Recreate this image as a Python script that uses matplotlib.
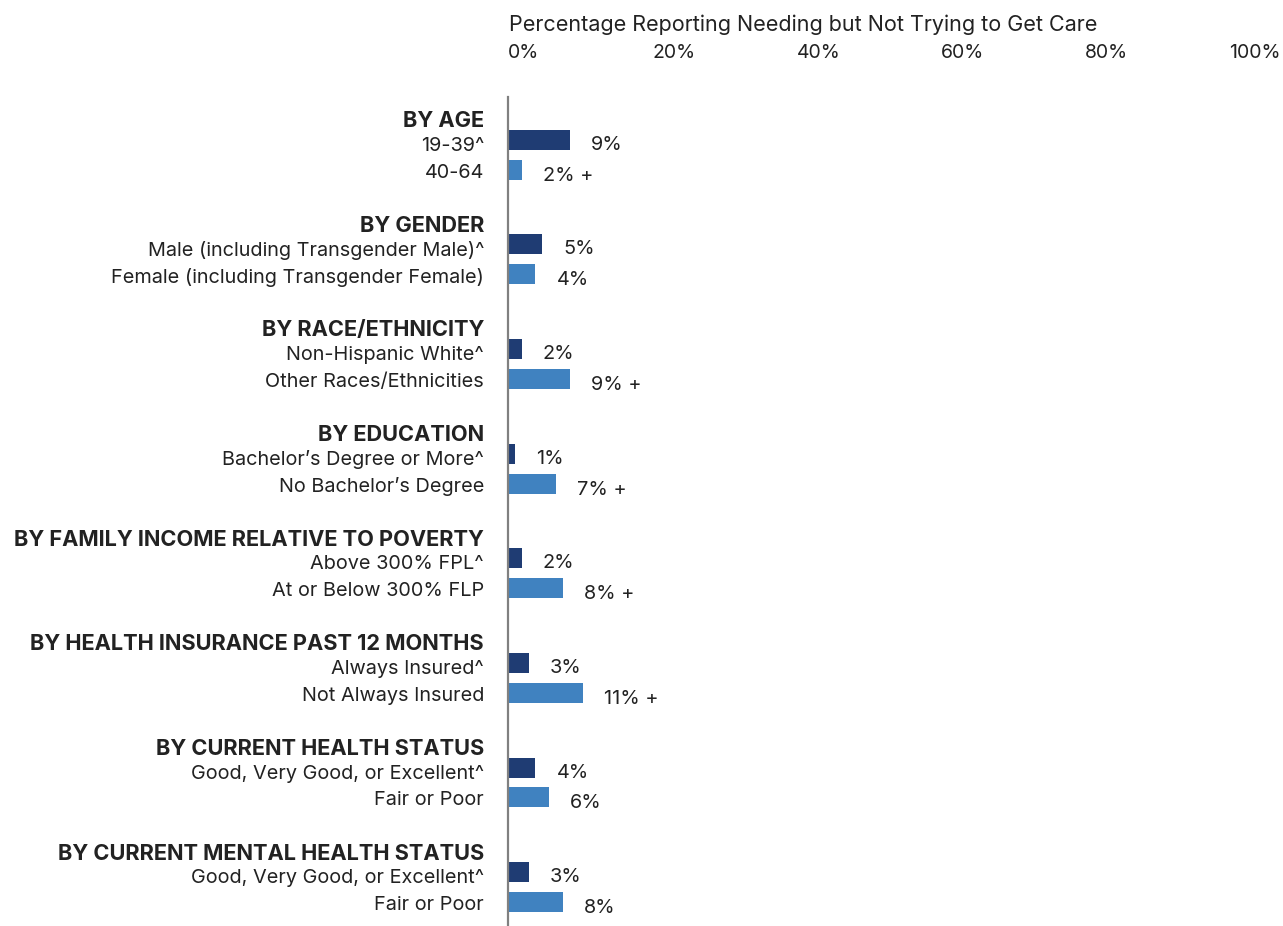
import matplotlib
matplotlib.use("Agg")
import matplotlib.pyplot as plt

plt.rcParams['font.family'] = ['Inter', 'DejaVu Sans']

groups = ["BY AGE", "BY GENDER", "BY RACE/ETHNICITY", "BY EDUCATION",
          "BY FAMILY INCOME RELATIVE TO POVERTY", "BY HEALTH INSURANCE PAST 12 MONTHS",
          "BY CURRENT HEALTH STATUS", "BY CURRENT MENTAL HEALTH STATUS"]
ref_labels = ["19-39^", "Male (including Transgender Male)^", "Non-Hispanic White^",
              "Bachelor\u2019s Degree or More^", "Above 300% FPL^", "Always Insured^",
              "Good, Very Good, or Excellent^", "Good, Very Good, or Excellent^"]
cmp_labels = ["40-64", "Female (including Transgender Female)", "Other Races/Ethnicities",
              "No Bachelor\u2019s Degree", "At or Below 300% FLP", "Not Always Insured",
              "Fair or Poor", "Fair or Poor"]
ref_vals = [9, 5, 2, 1, 2, 3, 4, 3]
cmp_vals = [2, 4, 9, 7, 8, 11, 6, 8]
cmp_sig = [True, False, True, True, True, True, False, False]
ticks = [0, 20, 40, 60, 80, 100]

dark = "#1F3C73"
light = "#4082C0"
txt = "#222222"

W, H = 1283, 926
fig = plt.figure(figsize=(W / 100, H / 100), dpi=100)
ax = fig.add_axes([508 / W, 0, (1270 - 508) / W, (H - 97) / H])

step = 3.5
for i in range(len(groups)):
    y1 = i * step
    y2 = y1 + 1
    ax.barh(y1, ref_vals[i], height=0.67, color=dark)
    ax.barh(y2, cmp_vals[i], height=0.67, color=light)

    ax.annotate(groups[i], xy=(0, y1 - 0.72), xycoords=('axes fraction', 'data'),
                xytext=(-24, -3), textcoords='offset pixels', ha='right', va='center',
                fontsize=15.7, fontweight='bold', color=txt)
    ax.annotate(ref_labels[i], xy=(0, y1), xycoords=('axes fraction', 'data'),
                xytext=(-24, -6), textcoords='offset pixels', ha='right', va='center',
                fontsize=14.3, color=txt)
    ax.annotate(cmp_labels[i], xy=(0, y2), xycoords=('axes fraction', 'data'),
                xytext=(-24, -3), textcoords='offset pixels', ha='right', va='center',
                fontsize=14.3, color=txt)

    ax.annotate(f"{ref_vals[i]}%", xy=(ref_vals[i], y1), xytext=(21, -5),
                textcoords='offset pixels', ha='left', va='center', fontsize=14.3, color=txt)
    lab = f"{cmp_vals[i]}%" + (" +" if cmp_sig[i] else "")
    ax.annotate(lab, xy=(cmp_vals[i], y2), xytext=(21, -6),
                textcoords='offset pixels', ha='left', va='center', fontsize=14.3, color=txt)

ax.set_xlim(0, (1270 - 508) / 6.85)
ax.set_ylim(7 * step + 1 + 0.8, -1.43)
ax.set_yticks([])
ax.set_xticks([])
for s in ['top', 'right', 'bottom']:
    ax.spines[s].set_visible(False)
ax.spines['left'].set_color('#808080')
ax.spines['left'].set_linewidth(1.6)

# percentage scale along the top
k = 0.95
secax = ax.secondary_xaxis('top', functions=(lambda x: x * k, lambda x: x / k))
secax.set_xticks(ticks)
secax.set_xticklabels([f"{t}%" for t in ticks], ha='left')
secax.tick_params(length=0, pad=25, labelsize=14, labelcolor=txt)
secax.spines['top'].set_visible(False)

fig.text(509 / W, 1 - 25 / H, "Percentage Reporting Needing but Not Trying to Get Care",
         ha='left', va='center', fontsize=15.5, color=txt)

fig.savefig("out.png", dpi=100)
